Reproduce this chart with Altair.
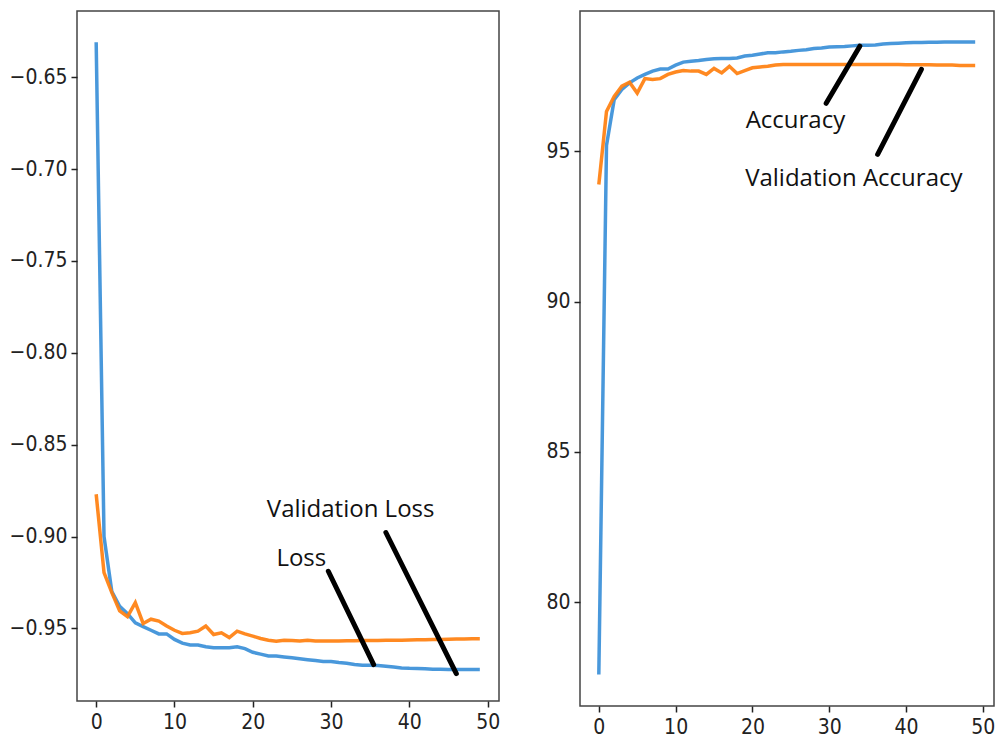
import altair as alt
import pandas as pd

epochs = list(range(50))

loss = [-0.631, -0.900, -0.930, -0.938, -0.942, -0.947, -0.949, -0.951, -0.953, -0.953,
        -0.956, -0.958, -0.959, -0.959, -0.960, -0.9605, -0.9605, -0.9605, -0.960, -0.961,
        -0.963, -0.964, -0.965, -0.965, -0.9655, -0.966, -0.9665, -0.967, -0.9675, -0.968,
        -0.968, -0.9686, -0.969, -0.9696, -0.970, -0.970, -0.9702, -0.9706, -0.971, -0.9715,
        -0.9717, -0.9718, -0.972, -0.9722, -0.9722, -0.9724, -0.9724, -0.9724, -0.9724, -0.9724]

val_loss = [-0.877, -0.9196, -0.9305, -0.9405, -0.9436, -0.936, -0.9473, -0.945, -0.946, -0.9487,
            -0.951, -0.9527, -0.9524, -0.9515, -0.9487, -0.9533, -0.9524, -0.955, -0.9515, -0.953,
            -0.9542, -0.9555, -0.9564, -0.957, -0.9564, -0.9566, -0.9568, -0.9564, -0.9568, -0.9568,
            -0.9568, -0.9568, -0.9567, -0.9567, -0.9566, -0.9566, -0.9566, -0.9565, -0.9564, -0.9564,
            -0.9563, -0.9562, -0.9561, -0.956, -0.956, -0.9559, -0.9558, -0.9557, -0.9556, -0.9556]

acc = [77.6, 95.2, 96.72, 97.06, 97.28, 97.44, 97.56, 97.67, 97.74, 97.74,
       97.87, 97.97, 98.0, 98.02, 98.06, 98.08, 98.09, 98.09, 98.11, 98.17,
       98.2, 98.24, 98.28, 98.28, 98.31, 98.33, 98.36, 98.38, 98.42, 98.44,
       98.47, 98.48, 98.49, 98.51, 98.53, 98.53, 98.54, 98.57, 98.59, 98.6,
       98.61, 98.62, 98.62, 98.63, 98.63, 98.64, 98.64, 98.64, 98.64, 98.64]

val_acc = [93.9, 96.33, 96.83, 97.17, 97.3, 96.94, 97.42, 97.39, 97.42, 97.56,
           97.64, 97.69, 97.67, 97.67, 97.56, 97.76, 97.61, 97.83, 97.59, 97.69,
           97.78, 97.81, 97.83, 97.87, 97.89, 97.89, 97.89, 97.89, 97.89, 97.89,
           97.89, 97.89, 97.89, 97.89, 97.89, 97.89, 97.89, 97.89, 97.89, 97.89,
           97.88, 97.88, 97.88, 97.88, 97.87, 97.87, 97.87, 97.86, 97.86, 97.86]

# annotations (data coordinates)
loss_labels = ["Validation Loss", "Loss"]
loss_label_x = [32.5, 26.2]
loss_label_y = [-0.8854, -0.9124]
loss_ptr_x = [29.65, 37.0]
loss_ptr_y = [-0.9189, -0.8978]
loss_ptr_x2 = [35.44, 46.0]
loss_ptr_y2 = [-0.9697, -0.9746]

acc_labels = ["Accuracy", "Validation Accuracy"]
acc_label_x = [25.6, 33.2]
acc_label_y = [96.0, 94.07]
acc_ptr_x = [33.98, 42.0]
acc_ptr_y = [98.5, 97.73]
acc_ptr_x2 = [29.6, 36.3]
acc_ptr_y2 = [96.6, 94.9]

BLUE = "#3a8fd8"
ORANGE = "#ff7f0e"
LABEL_FONT = "DejaVu Sans Condensed"
ANN_FONT = "Open Sans"

df_loss = pd.DataFrame({"epoch": epochs * 2,
                        "value": loss + val_loss,
                        "series": ["loss"] * 50 + ["val_loss"] * 50})
df_acc = pd.DataFrame({"epoch": epochs * 2,
                       "value": acc + val_acc,
                       "series": ["acc"] * 50 + ["val_acc"] * 50})

xscale = alt.Scale(domain=[-2.45, 51.45], nice=False, zero=False)
xaxis = alt.Axis(values=[0, 10, 20, 30, 40, 50], title=None)


def panel(df, series, yscale, yaxis, lx, ly, ltext, px, py, px2, py2, w, h):
    color = alt.Color("series:N", scale=alt.Scale(domain=series, range=[BLUE, ORANGE]), legend=None)
    lines = alt.Chart(df).mark_line(strokeWidth=3.5, opacity=0.92).encode(
        x=alt.X("epoch:Q", scale=xscale, axis=xaxis),
        y=alt.Y("value:Q", scale=yscale, axis=yaxis),
        color=color,
        detail="series:N",
    )
    ptr = alt.Chart(pd.DataFrame({"x": px, "y": py, "x2": px2, "y2": py2})).mark_rule(
        color="black", strokeWidth=5, strokeCap="round").encode(
        x=alt.X("x:Q", scale=xscale), y=alt.Y("y:Q", scale=yscale), x2="x2:Q", y2="y2:Q")
    txt = alt.Chart(pd.DataFrame({"x": lx, "y": ly, "t": ltext})).mark_text(
        font=ANN_FONT, fontSize=24, color="#111", align="center", baseline="middle").encode(
        x=alt.X("x:Q", scale=xscale), y=alt.Y("y:Q", scale=yscale), text="t:N")
    return alt.layer(lines, ptr, txt).properties(width=w, height=h)


left = panel(df_loss, ["loss", "val_loss"],
             alt.Scale(domain=[-0.9895, -0.614], nice=False, zero=False),
             alt.Axis(values=[-0.65, -0.70, -0.75, -0.80, -0.85, -0.90, -0.95], format=".2f", title=None),
             loss_label_x, loss_label_y, loss_labels,
             loss_ptr_x, loss_ptr_y, loss_ptr_x2, loss_ptr_y2, 422, 690)

right = panel(df_acc, ["acc", "val_acc"],
              alt.Scale(domain=[76.55, 99.67], nice=False, zero=False),
              alt.Axis(values=[80, 85, 90, 95], format="d", title=None),
              acc_label_x, acc_label_y, acc_labels,
              acc_ptr_x, acc_ptr_y, acc_ptr_x2, acc_ptr_y2, 414, 695)

chart = alt.hconcat(left, right, spacing=44).properties(
    padding={"left": 8, "top": 10, "right": 5, "bottom": 5},
    background="white",
).configure_view(
    stroke="#444", strokeWidth=1.5
).configure_axis(
    domain=False, grid=False, ticks=True, tickSize=6, tickWidth=1.5, tickColor="#222",
    labelFont=LABEL_FONT, labelFontSize=21, labelColor="#222", labelPadding=4,
)

chart.save("out.html", embed_options={"renderer": "svg", "actions": False})
